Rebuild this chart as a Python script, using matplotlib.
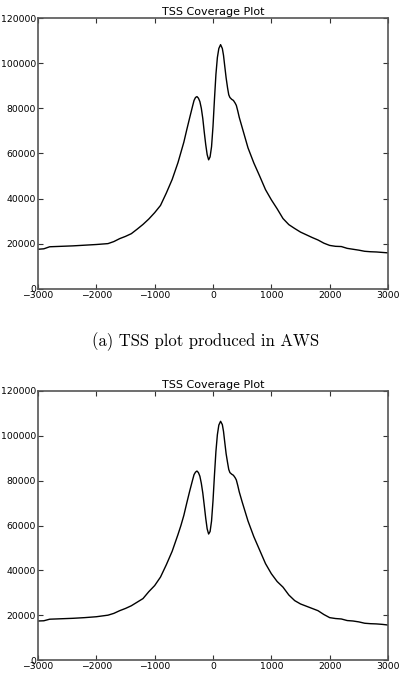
import matplotlib
matplotlib.use("Agg")
import matplotlib.pyplot as plt

# Top panel (AWS)
x_top = [-3000, -2900, -2800, -2600, -2400, -2200, -2000, -1800, -1700, -1600,
         -1500, -1400, -1300, -1200, -1100, -1000, -900, -800, -700, -600,
         -550, -500, -450, -400, -350, -325, -300, -275, -250, -225,
         -200, -175, -150, -125, -100, -75, -50, -25, 0, 25,
         50, 75, 100, 130, 160, 180, 200, 225, 250, 270,
         290, 320, 350, 380, 400, 425, 450, 500, 600, 700,
         800, 900, 1000, 1100, 1200, 1300, 1400, 1500, 1600, 1700,
         1800, 1900, 2000, 2100, 2200, 2300, 2400, 2500, 2600, 2700,
         2800, 2900, 3000]
y_top = [17600, 17800, 18700, 18900, 19100, 19400, 19700, 20100, 21000, 22300,
         23300, 24500, 26500, 28600, 31000, 33800, 37000, 42500, 48500, 56000,
         60500, 65000, 70500, 75800, 81000, 83500, 84800, 85200, 84500, 83000,
         80000, 75500, 69500, 64000, 59500, 57200, 58500, 63000, 72000, 84000,
         95000, 102500, 106500, 108200, 106500, 103500, 99000, 93500, 89000, 86000,
         84800, 84000, 83500, 82300, 81300, 78800, 76000, 71500, 62500, 55800,
         50000, 44000, 39500, 35500, 31200, 28500, 26800, 25200, 24000, 22800,
         21700, 20300, 19300, 18900, 18800, 18000, 17600, 17200, 16700, 16500,
         16400, 16200, 16000]

# Bottom panel
x_bot = [-3000, -2900, -2800, -2600, -2400, -2200, -2000, -1800, -1700, -1600,
         -1500, -1400, -1300, -1200, -1100, -1000, -900, -800, -700, -600,
         -550, -500, -450, -400, -350, -325, -300, -275, -250, -225,
         -200, -175, -150, -125, -100, -75, -50, -25, 0, 25,
         50, 75, 100, 130, 160, 180, 200, 225, 250, 270,
         290, 320, 350, 380, 400, 425, 450, 500, 600, 700,
         800, 900, 1000, 1100, 1200, 1300, 1400, 1500, 1600, 1700,
         1800, 1900, 2000, 2100, 2200, 2300, 2400, 2500, 2600, 2700,
         2800, 2900, 3000]
y_bot = [17400, 17500, 18200, 18400, 18600, 18900, 19300, 20000, 20800, 22000,
         23000, 24200, 25800, 27400, 30500, 33200, 37000, 42500, 48500, 56000,
         60000, 64500, 70000, 75300, 80300, 82700, 83800, 84300, 83600, 82000,
         78800, 74500, 69000, 63300, 58500, 56200, 57300, 62000, 71000, 82500,
         93000, 100500, 104800, 106500, 105000, 102000, 97500, 92000, 88000, 85000,
         83600, 82900, 82400, 81300, 80300, 77800, 75000, 70500, 62000, 55000,
         49000, 43000, 38500, 35000, 32500, 29000, 26500, 25000, 24000, 23000,
         22000, 20300, 18900, 18500, 18300, 17600, 17400, 17000, 16400, 16200,
         16100, 15900, 15600]

x_ticks = [-3000, -2000, -1000, 0, 1000, 2000, 3000]
y_ticks = [0, 20000, 40000, 60000, 80000, 100000, 120000]
title = "TSS Coverage Plot"
caption = "(a) TSS plot produced in AWS"

fig = plt.figure(figsize=(4.06, 6.98), dpi=100)
ax1 = fig.add_axes([38/406, 1-289/698, 350/406, 271/698])
ax2 = fig.add_axes([38/406, 1-660/698, 350/406, 269/698])

for ax, xs, ys in [(ax1, x_top, y_top), (ax2, x_bot, y_bot)]:
    ax.plot(xs, ys, color="black", linewidth=1.0)
    ax.set_xlim(-3000, 3000)
    ax.set_ylim(0, 120000)
    ax.set_xticks(x_ticks)
    ax.set_yticks(y_ticks)
    ax.set_xticklabels([str(v).replace("-", "\u2212") for v in x_ticks])
    ax.set_yticklabels([str(v) for v in y_ticks])
    ax.tick_params(direction="in", length=3.5, width=0.8, top=True, right=True,
                   labelsize=6.7, pad=1.5, color="#333333")
    for s in ax.spines.values():
        s.set_color("#555555")
        s.set_linewidth(1.2)
    ax.set_title(title, fontsize=8, pad=2)

fig.text(0.507, 1-342/698, caption, ha="center", va="center",
         fontsize=12, family="cmr10")

fig.savefig("out.png", dpi=100)
